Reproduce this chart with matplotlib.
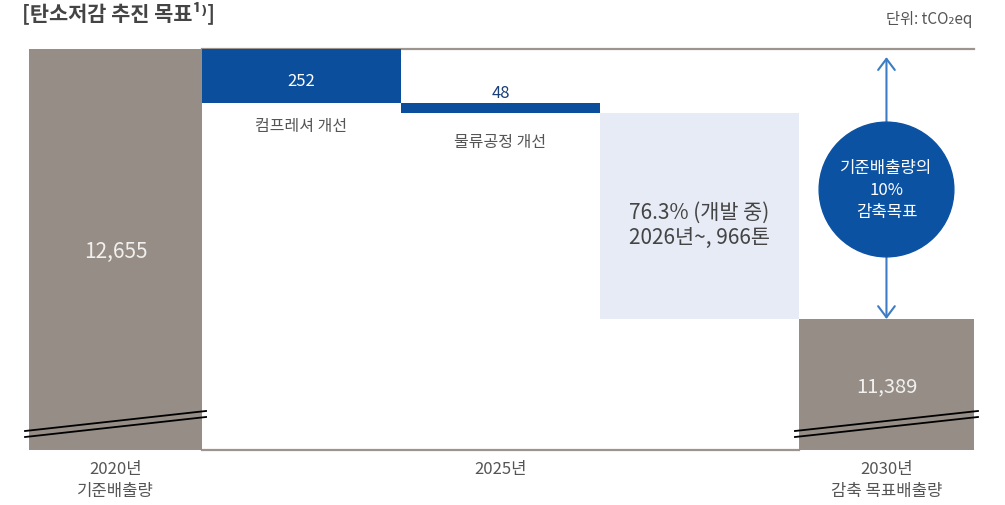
import numpy as np
import matplotlib
matplotlib.use("Agg")
import matplotlib.pyplot as plt
import matplotlib.transforms as mtransforms

plt.rcParams['font.family'] = ['Noto Sans CJK KR', 'DejaVu Sans']

# data
base_label = "2020년\n기준배출량"
mid_label = "2025년"
target_label = "2030년\n감축 목표배출량"
base_value = 12655
step_names = ["컴프레셔 개선", "물류공정 개선", "76.3% (개발 중)\n2026년~, 966톤"]
step_values = [252, 48, 966]
target_value = 11389
goal_text = "기준배출량의\n10%\n감축목표"

gray = "#958d86"
blue = "#0b4f9c"
light = "#e6ebf5"
line_gray = "#9c958f"
txt = "#555555"

fig = plt.figure(figsize=(10.05, 5.06), dpi=100)
ax = fig.add_axes([29 / 1005, 55 / 506, 945 / 1005, 401 / 506])

ymin = 10775
widths = np.array([0.87, 1, 1, 1, 0.88])
lefts = np.concatenate([[0], np.cumsum(widths)[:-1]])
centers = lefts + widths / 2

# base bar
ax.bar(lefts[0], base_value - ymin, width=widths[0], bottom=ymin, align='edge', color=gray, zorder=2)
# steps
level = base_value
step_colors = [blue, blue, light]
for i, v in enumerate(step_values):
    ax.bar(lefts[i + 1], v, width=widths[i + 1], bottom=level - v, align='edge',
           color=step_colors[i], zorder=2)
    level -= v
# target bar
ax.bar(lefts[4], target_value - ymin, width=widths[4], bottom=ymin, align='edge', color=gray, zorder=2)

ax.set_xlim(0, widths.sum())
ax.set_ylim(ymin, base_value)
ax.axis('off')

# top and bottom guide lines
ax.plot([lefts[1], lefts[4] + widths[4]], [base_value, base_value], color=line_gray, lw=1.6,
        clip_on=False, zorder=1)
ax.plot([lefts[1], lefts[4]], [ymin, ymin], color=line_gray, lw=1.6, clip_on=False, zorder=1)

# axis break marks
trans = mtransforms.blended_transform_factory(ax.transData, ax.transAxes)
for i in [0, 4]:
    x0 = lefts[i] - 0.02
    x1 = lefts[i] + widths[i] + 0.02
    for dy in [0.0, 0.015]:
        ax.plot([x0, x1], [0.0474 - dy, 0.0973 - dy], color='black', lw=1.3,
                transform=trans, clip_on=False, zorder=3)

# bar labels
ax.text(centers[0], (base_value + ymin) / 2 - 5, f"{base_value:,}", ha='center', va='center',
        color='#f2f0ee', fontsize=15, fontweight='light', zorder=4)
ax.text(centers[4], (target_value + ymin) / 2 - 7, f"{target_value:,}", ha='center', va='center',
        color='#f2f0ee', fontsize=14.5, fontweight='light', zorder=4)

ax.text(centers[1], base_value - step_values[0] / 2 - 23, f"{step_values[0]}", ha='center', va='center',
        color='white', fontsize=12, fontweight='medium', zorder=4)
ax.text(centers[1], base_value - step_values[0] - 108, step_names[0], ha='center', va='center',
        color=txt, fontsize=11.5, zorder=4)

lv = base_value - step_values[0]
ax.text(centers[2], lv + 50, f"{step_values[1]}", ha='center', va='center',
        color='#1b3f78', fontsize=12, fontweight='medium', zorder=4)
ax.text(centers[2], lv - step_values[1] - 136, step_names[1], ha='center', va='center',
        color=txt, fontsize=11.5, zorder=4)

lv = lv - step_values[1]
ax.text(centers[3], lv - step_values[2] / 2 - 40, step_names[2], ha='center', va='center',
        color='#444444', fontsize=15, fontweight='light', linespacing=1.15, zorder=4)

# goal circle and arrows
cy = (base_value + target_value) / 2 - 25
ax.scatter([centers[4]], [cy], s=97 ** 2, color='#0c52a3', zorder=5, clip_on=False)
ax.text(centers[4], cy, goal_text, ha='center', va='center', color='white', fontsize=12,
        linespacing=1.4, zorder=6)
for yt in [base_value - 38, target_value]:
    ax.annotate('', xy=(centers[4], yt), xytext=(centers[4], cy),
                arrowprops=dict(arrowstyle='->,head_length=0.4,head_width=0.3', color='#3d7cc4',
                                lw=1.5, shrinkA=48, shrinkB=0, mutation_scale=20),
                zorder=4)

# x labels
ax.text(centers[0], -0.025, base_label, transform=trans, ha='center', va='top', color=txt,
        fontsize=12, linespacing=1.4)
ax.text((lefts[1] + lefts[4]) / 2, -0.025, mid_label, transform=trans, ha='center', va='top',
        color=txt, fontsize=12, linespacing=1.4)
ax.text(centers[4], -0.025, target_label, transform=trans, ha='center', va='top', color=txt,
        fontsize=12, linespacing=1.4)

# title and unit
fig.text(22 / 1005, 1 - 1 / 506, "[탄소저감 추진 목표¹⁾]", ha='left', va='top',
         color='#444444', fontsize=15, fontweight='bold')
fig.text(972 / 1005, 1 - 20 / 506, "단위: tCO₂eq", ha='right', va='center', color=txt, fontsize=11)

fig.savefig("out.png", dpi=100)
